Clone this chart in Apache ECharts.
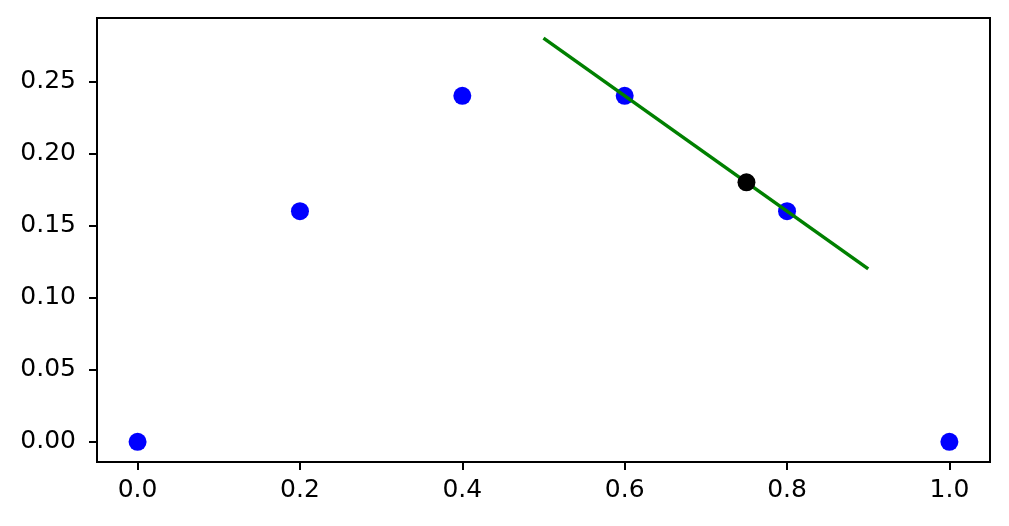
<!DOCTYPE html>
<html>
<head>
<meta charset="utf-8">
<script src="https://cdn.jsdelivr.net/npm/echarts@6/dist/echarts.min.js"></script>
<style>
  html, body { margin: 0; padding: 0; background: #fff; }
  #chart { width: 1009px; height: 526px; }
</style>
</head>
<body>
<div id="chart"></div>
<script>
// data
const xPoints = [0.0, 0.2, 0.4, 0.6, 0.8, 1.0];
const yPoints = [0.0, 0.16, 0.24, 0.24, 0.16, 0.0];
const markedPoint = [0.75, 0.18];
const lineX = [0.5, 0.9];
const lineY = [0.28, 0.12];
const xTicks = [0.0, 0.2, 0.4, 0.6, 0.8, 1.0];
const yTicks = [0.0, 0.05, 0.10, 0.15, 0.20, 0.25];

const chart = echarts.init(document.getElementById('chart'));

const labelFont = {
  color: '#000',
  fontFamily: 'DejaVu Sans',
  fontSize: 25
};

const option = {
  backgroundColor: '#fff',
  animation: false,
  grid: {
    left: 97,
    right: 19,
    top: 18,
    bottom: 64,
    show: true,
    borderColor: '#000',
    borderWidth: 2,
    containLabel: false
  },
  xAxis: {
    type: 'value',
    min: -0.05,
    max: 1.05,
    splitLine: { show: false },
    axisLine: { onZero: false, lineStyle: { color: '#000', width: 2 } },
    axisTick: { show: true, length: 8, lineStyle: { color: '#000', width: 2 }, customValues: xTicks },
    axisLabel: { ...labelFont, margin: 16, customValues: xTicks, formatter: v => v.toFixed(1) }
  },
  yAxis: {
    type: 'value',
    min: -0.014,
    max: 0.294,
    splitLine: { show: false },
    axisLine: { show: true, onZero: false, lineStyle: { color: '#000', width: 2 } },
    axisTick: { show: true, length: 8, lineStyle: { color: '#000', width: 2 }, customValues: yTicks },
    axisLabel: { ...labelFont, margin: 21, customValues: yTicks, formatter: v => v.toFixed(2) }
  },
  series: [
    {
      type: 'scatter',
      data: xPoints.map((x, i) => [x, yPoints[i]]),
      symbol: 'circle',
      symbolSize: 18,
      itemStyle: { color: '#0000ff', opacity: 1 },
      z: 2
    },
    {
      type: 'line',
      data: lineX.map((x, i) => [x, lineY[i]]),
      showSymbol: false,
      lineStyle: { color: '#008000', width: 3.5 },
      z: 3
    },
    {
      type: 'scatter',
      data: [markedPoint],
      symbol: 'circle',
      symbolSize: 18,
      itemStyle: { color: '#000', opacity: 1 },
      z: 4
    }
  ]
};

chart.setOption(option);
</script>
</body>
</html>
